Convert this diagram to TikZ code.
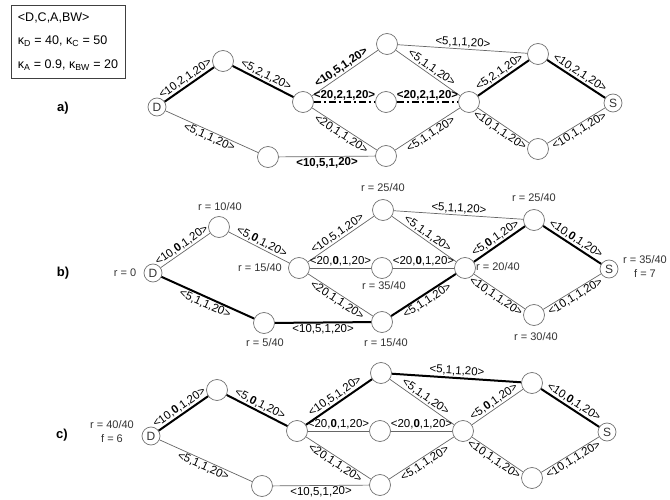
\documentclass[tikz,border=0pt]{standalone}
\usepackage{fontspec}
\setmainfont{Liberation Sans}
\usetikzlibrary{positioning}

\tikzset{
  vtx/.style={circle,draw=black!55,fill=white,line width=0.7pt,minimum size=21pt,inner sep=0pt},
  term/.style={vtx,minimum size=18pt,font=\fontsize{12}{12}\selectfont,text=black!80},
  lnk/.style={draw=black!60,line width=0.7pt},
  heavy/.style={draw=black,line width=2pt},
  dashdotlink/.style={draw=black,line width=2pt,dash pattern=on 7pt off 3pt on 2pt off 3pt},
  lab/.style={sloped,midway,inner sep=1.2pt,font=\fontsize{11.5}{11.5}\selectfont},
  rlab/.style={text=black!80,font=\fontsize{11}{14}\selectfont,inner sep=0pt,align=center},
  panel/.style={font=\bfseries\fontsize{13}{13}\selectfont}
}

% same network in all three panels
\newcommand{\netnodes}{%
  \node[term] (D) at (0,5) {D};
  \node[vtx] (u) at (66,-41) {};
  \node[vtx] (v) at (146,0) {};
  \node[vtx] (w) at (111,55) {};
  \node[vtx] (x) at (230,-58) {};
  \node[vtx] (y) at (229,0) {};
  \node[vtx] (z) at (229,54) {};
  \node[vtx] (c) at (312,0) {};
  \node[vtx] (p) at (381,-48) {};
  \node[vtx] (q) at (381,47) {};
  \node[term] (S) at (456,1) {S};
}

\begin{document}
\begin{tikzpicture}[x=1pt,y=-1pt]
  \useasboundingbox (0,0) rectangle (670,500);

  \node[draw=black!75,line width=0.7pt,align=left,
        minimum width=114pt,minimum height=73pt,inner xsep=3pt,
        font=\fontsize{12.5}{23.5}\selectfont] (legend) at (68,41.5)
    {<D,C,A,BW>\\
     κ\textsubscript{D} = 40, κ\textsubscript{C} = 50\\
     κ\textsubscript{A} = 0.9, κ\textsubscript{BW} = 20};

  \node[panel] (la) at (63,108) {a)};
  \node[panel] (lb) at (63,273) {b)};
  \node[panel] (lc) at (62,435) {c)};

  % a)
  \begin{scope}[shift={(157,102)},name prefix=a-]
    \netnodes
    \draw[heavy] (D) -- (u) node[lab,above] {<10,2,1,20>};
    \draw[heavy] (u) -- (v) node[lab,above] {<5,2,1,20>};
    \draw[lnk] (D) -- (w) node[lab,below] {<5,1,1,20>};
    \draw[lnk] (w) -- (z) node[lab,below] {\textbf{<10,5,1,20>}};
    \draw[lnk] (v) -- (x) node[lab,above] {\textbf{<10,5,1,20>}};
    \draw[dashdotlink] (v) -- (y) node[lab,above] {\textbf{<20,2,1,20>}};
    \draw[lnk] (v) -- (z) node[lab,below] {<20,1,1,20>};
    \draw[lnk] (x) -- (c) node[lab,above] {<5,1,1,20>};
    \draw[dashdotlink] (y) -- (c) node[lab,above] {\textbf{<20,2,1,20>}};
    \draw[lnk] (z) -- (c) node[lab,below] {<5,1,1,20>};
    \draw[lnk] (x) -- (p) node[lab,above] {<5,1,1,20>};
    \draw[heavy] (c) -- (p) node[lab,above] {<5,2,1,20>};
    \draw[lnk] (c) -- (q) node[lab,below] {<10,1,1,20>};
    \draw[heavy] (p) -- (S) node[lab,above] {<10,2,1,20>};
    \draw[lnk] (q) -- (S) node[lab,below] {<10,1,1,20>};
  \end{scope}

  % b)
  \begin{scope}[shift={(153,268)},name prefix=b-]
    \netnodes
    \draw[lnk] (D) -- (u) node[lab,above] {<10,\textbf{0},1,20>};
    \draw[lnk] (u) -- (v) node[lab,above] {<5,\textbf{0},1,20>};
    \draw[heavy] (D) -- (w) node[lab,below] {<5,1,1,20>};
    \draw[heavy] (w) -- (z) node[lab,below] {<10,5,1,20>};
    \draw[lnk] (v) -- (x) node[lab,above] {<10,5,1,20>};
    \draw[lnk] (v) -- (y) node[lab,above] {<20,\textbf{0},1,20>};
    \draw[lnk] (v) -- (z) node[lab,below] {<20,1,1,20>};
    \draw[lnk] (x) -- (c) node[lab,above] {<5,1,1,20>};
    \draw[lnk] (y) -- (c) node[lab,above] {<20,\textbf{0},1,20>};
    \draw[heavy] (z) -- (c) node[lab,below] {<5,1,1,20>};
    \draw[lnk] (x) -- (p) node[lab,above] {<5,1,1,20>};
    \draw[heavy] (c) -- (p) node[lab,above] {<5,\textbf{0},1,20>};
    \draw[lnk] (c) -- (q) node[lab,below] {<10,1,1,20>};
    \draw[heavy] (p) -- (S) node[lab,above] {<10,\textbf{0},1,20>};
    \draw[lnk] (q) -- (S) node[lab,below] {<10,1,1,20>};
    \node[rlab] (rD) at (-28,5) {r = 0};
    \node[rlab] (ru) at (67,-61) {r = 10/40};
    \node[rlab] (rv) at (107,0) {r = 15/40};
    \node[rlab] (rw) at (112,75) {r = 5/40};
    \node[rlab] (rx) at (230,-80) {r = 25/40};
    \node[rlab] (ry) at (231,18) {r = 35/40};
    \node[rlab] (rz) at (233,75) {r = 15/40};
    \node[rlab] (rc) at (345,-1) {r = 20/40};
    \node[rlab] (rp) at (381,-70) {r = 25/40};
    \node[rlab] (rq) at (383,69) {r = 30/40};
    \node[rlab] (rS) at (492,-1) {r = 35/40\\f = 7};
  \end{scope}

  % c)
  \begin{scope}[shift={(151,431)},name prefix=c-]
    \netnodes
    \draw[heavy] (D) -- (u) node[lab,above] {<10,\textbf{0},1,20>};
    \draw[heavy] (u) -- (v) node[lab,above] {<5,\textbf{0},1,20>};
    \draw[lnk] (D) -- (w) node[lab,below] {<5,1,1,20>};
    \draw[lnk] (w) -- (z) node[lab,below] {<10,5,1,20>};
    \draw[heavy] (v) -- (x) node[lab,above] {<10,5,1,20>};
    \draw[lnk] (v) -- (y) node[lab,above] {<20,\textbf{0},1,20>};
    \draw[lnk] (v) -- (z) node[lab,below] {<20,1,1,20>};
    \draw[lnk] (x) -- (c) node[lab,above] {<5,1,1,20>};
    \draw[lnk] (y) -- (c) node[lab,above] {<20,\textbf{0},1,20>};
    \draw[lnk] (z) -- (c) node[lab,below] {<5,1,1,20>};
    \draw[heavy] (x) -- (p) node[lab,above] {<5,1,1,20>};
    \draw[lnk] (c) -- (p) node[lab,above] {<5,\textbf{0},1,20>};
    \draw[lnk] (c) -- (q) node[lab,below] {<10,1,1,20>};
    \draw[heavy] (p) -- (S) node[lab,above] {<10,\textbf{0},1,20>};
    \draw[lnk] (q) -- (S) node[lab,below] {<10,1,1,20>};
    \node[rlab] (rD) at (-39,1) {r = 40/40\\f = 6};
  \end{scope}
\end{tikzpicture}
\end{document}
